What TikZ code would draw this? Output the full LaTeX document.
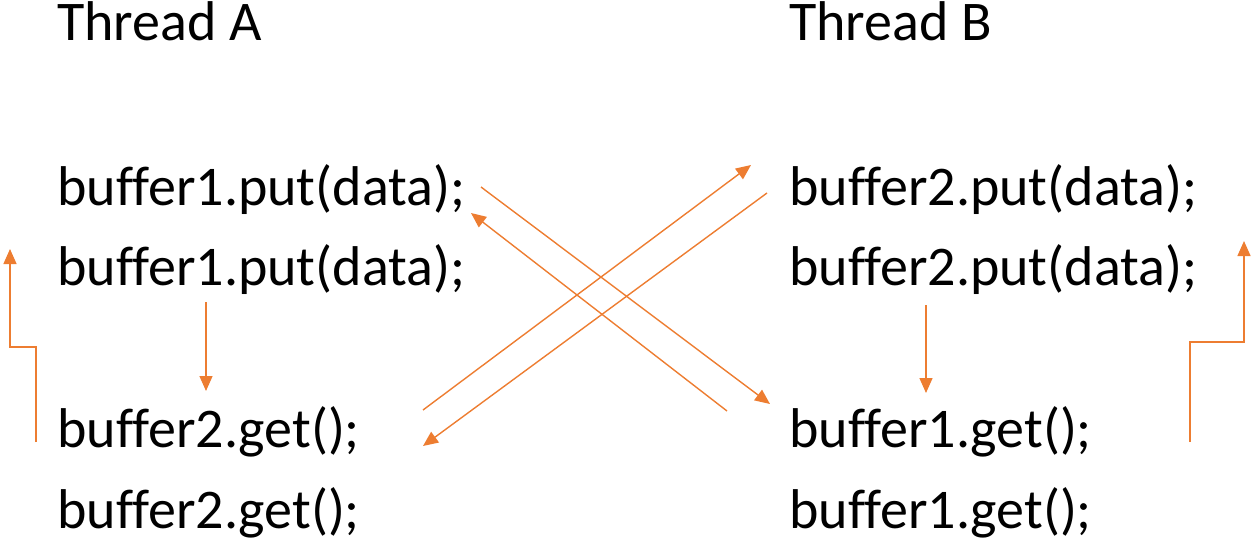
\documentclass[tikz,border=0pt]{standalone}
\usepackage{fontspec}
\setmainfont{Carlito}[Ligatures=CommonOff]
\usepackage{tikz}
\usetikzlibrary{arrows.meta}
\usetikzlibrary{calc}

\definecolor{flow}{HTML}{ED7D31}

\tikzset{
    code/.style={anchor=base west, inner sep=0pt, font=\fontsize{56}{62}\selectfont},
    link/.style={draw=flow, line width=1.4pt, -{Triangle[length=15pt,width=13pt]}}
}

\begin{document}
\begin{tikzpicture}[x=1pt, y=1pt]
                \useasboundingbox (0, 0) rectangle (1251, -543);

                % thread A
                \node[code] (ta) at (57, -41)   {Thread A};
                \node[code] (a1) at (57, -205)  {buffer1.put(data);};
                \node[code] (a2) at (57, -285)  {buffer1.put(data);};
                \node[code] (a3) at (57, -447)  {buffer2.get();};
                \node[code] (a4) at (57, -528)  {buffer2.get();};

                % thread B
                \node[code] (tb) at (789, -41)  {Thread B};
                \node[code] (b1) at (789, -205) {buffer2.put(data);};
                \node[code] (b2) at (789, -285) {buffer2.put(data);};
                \node[code] (b3) at (789, -447) {buffer1.get();};
                \node[code] (b4) at (789, -528) {buffer1.get();};

                % ends of the crossing arrows
                \coordinate (p1) at (481, -187);
                \coordinate (q1) at (770, -404);
                \coordinate (p2) at (727, -411);
                \coordinate (q2) at (471, -213);
                \coordinate (p3) at (423, -410);
                \coordinate (q3) at (751, -165);
                \coordinate (p4) at (767, -193);
                \coordinate (q4) at (423, -446);

                \draw[link] (p1) -- (q1);
                \draw[link] (p2) -- (q2);
                \draw[link] (p3) -- (q3);
                \draw[link] (p4) -- (q4);

                % waiting inside each thread
                \coordinate (wa) at (206, -302);
                \coordinate (wa') at (206, -391);
                \coordinate (wb) at (926, -305);
                \coordinate (wb') at (926, -393);
                \draw[link] (wa) -- (wa');
                \draw[link] (wb) -- (wb');

                % going back to the start
                \coordinate (la) at (36, -442);
                \coordinate (lb) at (10, -249);
                \draw[link] (la) -- (36, -347) -- (10, -347) -- (lb);
                \coordinate (ra) at (1190, -442);
                \coordinate (rb) at (1244, -241);
                \draw[link] (ra) -- (1190, -342) -- (1244, -342) -- (rb);
            \end{tikzpicture}
\end{document}
